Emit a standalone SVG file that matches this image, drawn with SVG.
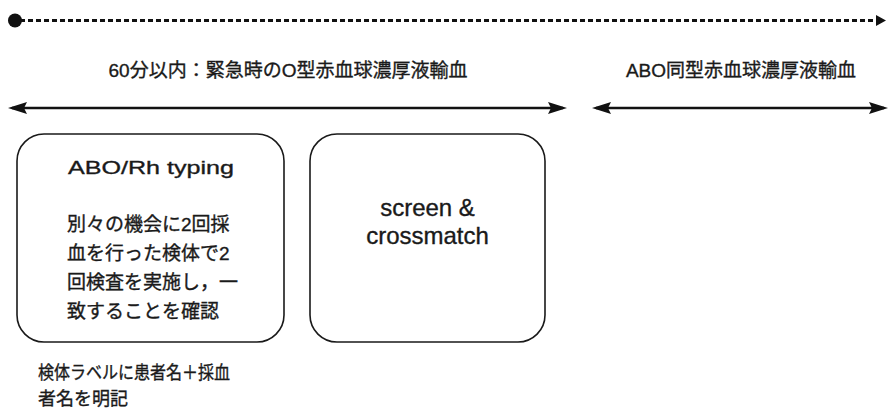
<svg xmlns="http://www.w3.org/2000/svg" width="888" height="412" viewBox="0 0 888 412">
<style>
.t{font-family:"Liberation Sans","Noto Sans CJK JP",sans-serif;fill:#1a1a1a;stroke:#1a1a1a;stroke-width:0.35}
.box{fill:#fff;stroke:#1a1a1a;stroke-width:1.6}
.arr{stroke:#111;stroke-width:2.6;fill:none}
.dash{stroke:#111;stroke-width:3;stroke-dasharray:5 3;fill:none}
</style>
<defs>
<marker id="ah" viewBox="0 0 19 12" refX="15" refY="6" markerWidth="19" markerHeight="12" markerUnits="userSpaceOnUse" orient="auto-start-reverse">
<path d="M0,0 L19,6 L0,12 L3,6 z" fill="#111"/>
</marker>
<marker id="sh" viewBox="0 0 10 11" refX="6" refY="5.5" markerWidth="10" markerHeight="11" markerUnits="userSpaceOnUse" orient="auto">
<path d="M0,0 L10,5.5 L0,11 z" fill="#111"/>
</marker>
</defs>
<rect width="888" height="412" fill="#fff"/>
<g id="connectors">
<circle cx="15" cy="20.5" r="7" fill="#111"/>
<line class="dash" x1="20" y1="20.5" x2="882" y2="20.5" marker-end="url(#sh)"/>
<line class="arr" x1="12" y1="108" x2="563" y2="108" marker-start="url(#ah)" marker-end="url(#ah)"/>
<line class="arr" x1="596" y1="108" x2="884" y2="108" marker-start="url(#ah)" marker-end="url(#ah)"/>
</g>
<g id="label-emergency">
<text class="t" x="288" y="77" font-size="19" text-anchor="middle">60分以内：緊急時のO型赤血球濃厚液輸血</text>
</g>
<g id="label-abo">
<text class="t" x="741" y="77" font-size="19" text-anchor="middle">ABO同型赤血球濃厚液輸血</text>
</g>
<g id="node-typing">
<rect class="box" x="17" y="134" width="267" height="208" rx="27" ry="27"/>
<text class="t" x="151" y="174" font-size="19" text-anchor="middle" textLength="166" lengthAdjust="spacingAndGlyphs">ABO/Rh typing</text>
<text class="t" x="67" font-size="19">
<tspan x="67" y="231">別々の機会に2回採</tspan>
<tspan x="67" y="260">血を行った検体で2</tspan>
<tspan x="67" y="289">回検査を実施し，一</tspan>
<tspan x="67" y="318">致することを確認</tspan>
</text>
</g>
<g id="node-crossmatch">
<rect class="box" x="310" y="134" width="235" height="208" rx="27" ry="27"/>
<text class="t" x="427.5" y="216" font-size="24" text-anchor="middle">screen &amp;</text>
<text class="t" x="427.5" y="244" font-size="24" text-anchor="middle">crossmatch</text>
</g>
<g id="note-label">
<text class="t" x="38" y="379" font-size="18" textLength="192" lengthAdjust="spacingAndGlyphs">検体ラベルに患者名＋採血</text>
<text class="t" x="38" y="405" font-size="18">者名を明記</text>
</g>
</svg>
